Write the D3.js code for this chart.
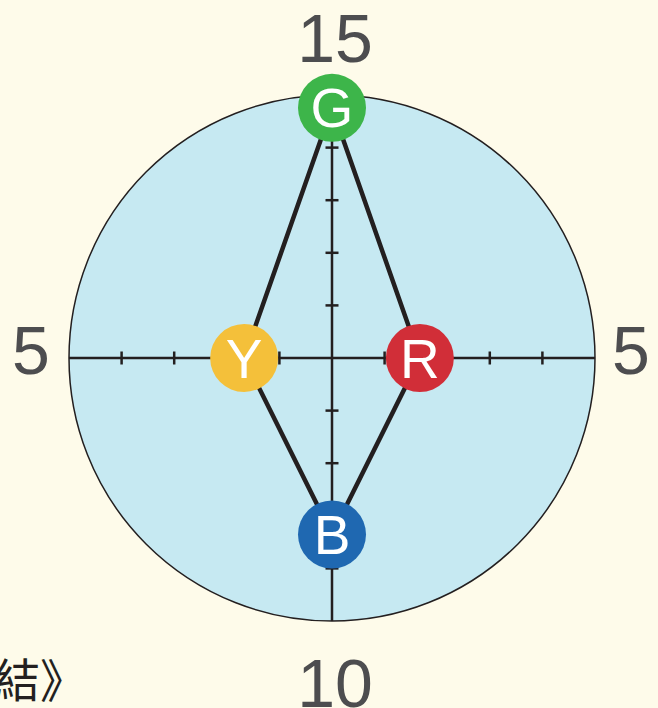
<!DOCTYPE html>
<html>
<head>
<meta charset="utf-8">
<script src="https://cdn.jsdelivr.net/npm/d3@7"></script>
<style>
  html, body { margin: 0; padding: 0; background: #fefbea; overflow: hidden; }
</style>
</head>
<body>
<div class="chart"></div>
<script>
// axes: direction, max value shown at the end of each arm
const axisNames = ["top", "right", "bottom", "left"];
const axisMax = [15, 5, 10, 5];
const axisLabels = ["15", "5", "10", "5"];
const tickCount = 5;

// points on the arms
const pointLetters = ["G", "R", "B", "Y"];
const pointAxis = ["top", "right", "bottom", "left"];
const pointValues = [14.27, 1.67, 6.71, 1.67];
const pointColors = ["#3db54a", "#d12e38", "#1f68b1", "#f4c03a"];

const bottomText = "結》";

const width = 658, height = 708;
const cx = 332, cy = 358, R = 263;

const svg = d3.select(".chart")
              .append("svg")
              .attr("width", width)
              .attr("height", height);

const dirs = {
    top: [0, -1],
    right: [1, 0],
    bottom: [0, 1],
    left: [-1, 0]
};

const scales = {};
axisNames.forEach((a, i) => {
    scales[a] = d3.scaleLinear().domain([0, axisMax[i]]).range([0, R]);
});

const pos = (axis, v) => {
    const r = scales[axis](v);
    return [cx + dirs[axis][0] * r, cy + dirs[axis][1] * r];
};

svg.append("circle")
   .attr("cx", cx)
   .attr("cy", cy)
   .attr("r", R)
   .attr("fill", "#c6e9f2")
   .attr("stroke", "#231f20")
   .attr("stroke-width", 1.5);

// arms
axisNames.forEach((a, i) => {
    const end = pos(a, axisMax[i]);
    svg.append("line")
       .attr("x1", cx).attr("y1", cy)
       .attr("x2", end[0]).attr("y2", end[1])
       .attr("stroke", "#231f20")
       .attr("stroke-width", 2.5);

    const tickVals = d3.range(1, tickCount).map(k => axisMax[i] * k / tickCount);
    svg.selectAll(null)
       .data(tickVals)
       .join("line")
       .attr("x1", d => pos(a, d)[0] - dirs[a][1] * 6.5)
       .attr("y1", d => pos(a, d)[1] - dirs[a][0] * 6.5)
       .attr("x2", d => pos(a, d)[0] + dirs[a][1] * 6.5)
       .attr("y2", d => pos(a, d)[1] + dirs[a][0] * 6.5)
       .attr("stroke", "#231f20")
       .attr("stroke-width", 2.5);
});

// end labels
const labelPos = {
    top: [335, 62],
    right: [631, 374],
    bottom: [335, 707],
    left: [31, 374]
};
svg.selectAll(".end-label")
   .data(axisNames)
   .join("text")
   .attr("class", "end-label")
   .attr("x", d => labelPos[d][0])
   .attr("y", d => labelPos[d][1])
   .attr("text-anchor", "middle")
   .style("font-family", "'Liberation Sans', Arial, sans-serif")
   .style("font-size", "68px")
   .attr("fill", "#4d4d4f")
   .text((d, i) => axisLabels[i]);

// diamond
const pts = pointAxis.map((a, i) => pos(a, pointValues[i]));
svg.append("path")
   .attr("d", d3.line()(pts) + "Z")
   .attr("fill", "none")
   .attr("stroke", "#231f20")
   .attr("stroke-width", 4.5)
   .attr("stroke-linejoin", "miter");

const marks = svg.selectAll(".pt")
                 .data(pointLetters)
                 .join("g")
                 .attr("class", "pt")
                 .attr("transform", (d, i) => `translate(${pts[i][0]}, ${pts[i][1]})`);

marks.append("circle")
     .attr("r", 34)
     .attr("fill", (d, i) => pointColors[i]);

marks.append("text")
     .text(d => d)
     .attr("y", 19.5)
     .attr("text-anchor", "middle")
     .style("font-family", "'Liberation Sans', Arial, sans-serif")
     .style("font-size", "55px")
     .attr("fill", "#ffffff");

svg.append("text")
   .attr("x", -6)
   .attr("y", 697)
   .style("font-family", "'Noto Sans CJK TC', sans-serif")
   .style("font-size", "46px")
   .attr("fill", "#231f20")
   .text(bottomText);
</script>
</body>
</html>
